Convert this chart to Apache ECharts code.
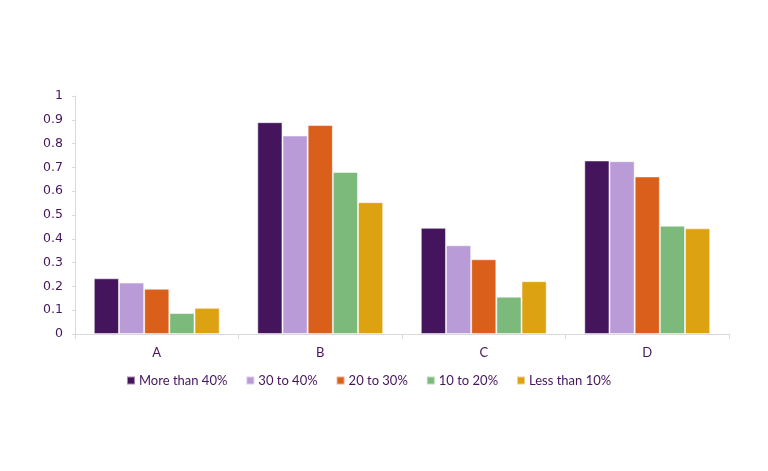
<!DOCTYPE html>
<html>
<head>
<meta charset="utf-8">
<script src="https://cdn.jsdelivr.net/npm/echarts@6/dist/echarts.min.js"></script>
<style>html,body{margin:0;padding:0;background:#fff;}#c{width:768px;height:471px;}</style>
</head>
<body>
<div id="c"></div>
<script>
var categories = ['A', 'B', 'C', 'D'];
var seriesNames = ['More than 40%', '30 to 40%', '20 to 30%', '10 to 20%', 'Less than 10%'];
var more40 = [0.234, 0.890, 0.446, 0.729];
var s30to40 = [0.216, 0.834, 0.373, 0.726];
var s20to30 = [0.190, 0.878, 0.314, 0.662];
var s10to20 = [0.088, 0.681, 0.157, 0.455];
var less10 = [0.110, 0.554, 0.222, 0.444];
var yTicks = [0, 0.1, 0.2, 0.3, 0.4, 0.5, 0.6, 0.7, 0.8, 0.9, 1];

var colors = ['#44145C', '#B99BD8', '#D95F1B', '#7BBA7A', '#DDA212'];
var values = [more40, s30to40, s20to30, s10to20, less10];
var textColor = '#44145C';
var font = 'Lato';

var chart = echarts.init(document.getElementById('c'));
chart.setOption({
  animation: false,
  color: colors,
  grid: { left: 75, right: 39, top: 96, bottom: 137 },
  legend: {
    bottom: 79,
    left: 121,
    itemWidth: 8, itemHeight: 8, itemGap: 18,
    icon: 'rect',
    textStyle: { color: textColor, fontFamily: font, fontSize: 13, padding: [0,0,0,-1] },
    data: seriesNames
  },
  xAxis: {
    type: 'category',
    data: categories,
    axisLine: { lineStyle: { color: '#D9D9D9' } },
    axisTick: { show: true, length: 5, lineStyle: { color: '#D9D9D9' } },
    axisLabel: { color: textColor, fontFamily: font, fontSize: 13, margin: 12 }
  },
  yAxis: {
    type: 'value',
    min: 0, max: 1, interval: 0.1,
    axisLine: { show: true, lineStyle: { color: '#D9D9D9' } },
    axisTick: { show: true, length: 3, lineStyle: { color: '#D9D9D9' } },
    splitLine: { show: false },
    axisLabel: {
      color: textColor, fontFamily: 'DejaVu Sans', fontSize: 12.5, margin: 12,
      formatter: function (v) { var r = Math.round(v * 10) / 10; return yTicks.indexOf(r) >= 0 ? String(r) : ''; }
    }
  },
  series: seriesNames.map(function (n, i) {
    return {
      name: n, type: 'bar', data: values[i],
      barGap: '0%', barCategoryGap: '23%',
      itemStyle: { borderColor: 'rgba(255,255,255,0.5)', borderWidth: 1 }
    };
  })
});
</script>
</body>
</html>
